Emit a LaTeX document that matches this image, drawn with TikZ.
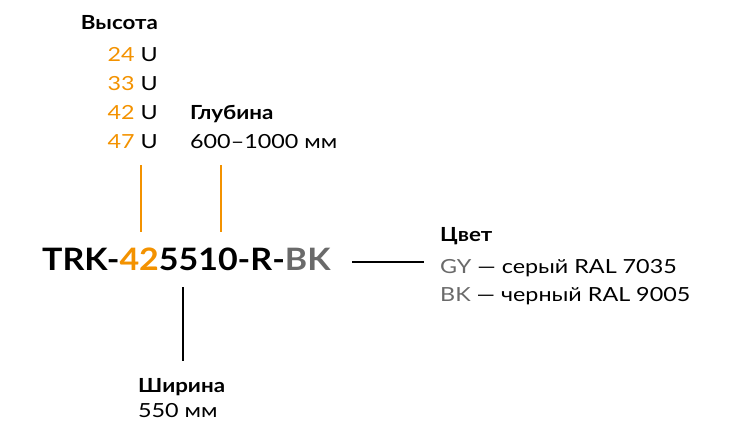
\documentclass[tikz,border=0pt]{standalone}
\usepackage{fontspec}
\setmainfont{Lato}
\newfontfamily\trktxt{Lato}[FakeStretch=1.2]
\newfontfamily\trkhead{Lato}[FakeStretch=1.15]
\newfontfamily\trkcode{Lato}[FakeStretch=1.1]
\usepackage{tikz}
\usetikzlibrary{positioning}
\definecolor{trkorange}{HTML}{F39200}
\definecolor{trkgray}{HTML}{6A6A6A}

\begin{document}
\begin{tikzpicture}[
    x=1bp, y=-1bp,
    txt/.style={inner sep=0pt, font=\trktxt\fontsize{19.5}{22}\selectfont},
    head/.style={inner sep=0pt, font=\trkhead\fontsize{19.5}{22}\selectfont\bfseries},
    code/.style={inner sep=0pt, font=\trkcode\fontsize{31}{36}\selectfont\bfseries},
    orline/.style={draw=trkorange, line width=1.3bp},
    blline/.style={draw=black, line width=1.3bp}
]
\useasboundingbox (0,0) rectangle (729,428);

% height
\node[head, anchor=base east] (vys) at (158,29) {Высота};
\node[txt, anchor=base east] (h24) at (158,61) {\textcolor{trkorange}{24} U};
\node[txt, anchor=base east] (h33) at (158,90) {\textcolor{trkorange}{33} U};
\node[txt, anchor=base east] (h42) at (158,119) {\textcolor{trkorange}{42} U};
\node[txt, anchor=base east] (h47) at (158,148) {\textcolor{trkorange}{47} U};

% depth
\node[head, anchor=base west] (glub) at (190,119) {Глубина};
\node[txt, anchor=base west] (glubval) at (190,148) {600–1000 мм};

% article
\node[code, anchor=base west] (art) at (42,270) {TRK-\textcolor{trkorange}{42}5510-R-\textcolor{trkgray}{BK}};

% colour
\node[head, anchor=base west] (cvet) at (440,241) {Цвет};
\node[txt, anchor=base west] (gy) at (440,273) {\textcolor{trkgray}{GY} — серый RAL 7035};
\node[txt, anchor=base west] (bk) at (440,301) {\textcolor{trkgray}{BK} — черный RAL 9005};

% width
\node[head, anchor=base west] (shir) at (138,392) {Ширина};
\node[txt, anchor=base west] (shirval) at (138,417) {550 мм};

\coordinate (hTop) at (141,165);
\coordinate (hBot) at (141,232);
\coordinate (dTop) at (221,165);
\coordinate (dBot) at (221,232);
\coordinate (wTop) at (183,287);
\coordinate (wBot) at (183,361);
\coordinate (cL) at (352,262);
\coordinate (cR) at (424,262);

\draw[orline] (hTop) -- (hBot);
\draw[orline] (dTop) -- (dBot);
\draw[blline] (wTop) -- (wBot);
\draw[blline] (cL) -- (cR);
\end{tikzpicture}
\end{document}
